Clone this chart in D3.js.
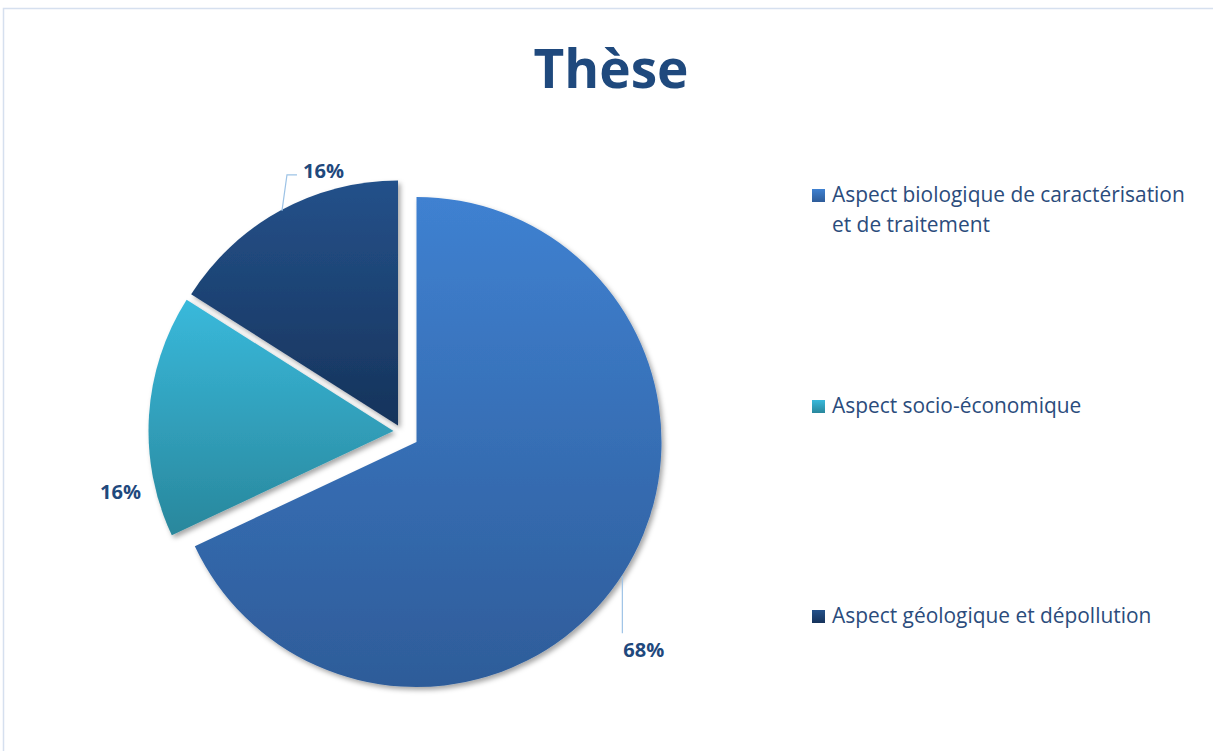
<!DOCTYPE html>
<html><head><meta charset="utf-8">
<script src="https://cdn.jsdelivr.net/npm/d3@7"></script>
<style>body{margin:0;background:#fff}svg{display:block}</style>
</head><body>
<script>
// ---- data ----
const title = "Thèse";
const categories = ["Aspect biologique de caractérisation et de traitement", "Aspect socio-économique", "Aspect géologique et dépollution"];
const legendLines = [["Aspect biologique de caractérisation", "et de traitement"], ["Aspect socio-économique"], ["Aspect géologique et dépollution"]];
const values = [68, 16, 16];
const valueLabels = ["68%", "16%", "16%"];

// ---- layout / style ----
const W = 1213, H = 751;
const cx = 406, cy = 434, R = 245;
const sliceOffsets = [[10.5, 8], [-12.5, -3], [-8, -8.5]];
const gradColors = [["#3f81d1", "#2e5c99"], ["#39b9db", "#29879c"], ["#24518a", "#16335b"]];
const textColor = "#1f497d";
const legendColor = "#2b4c7c";
const font = "'Open Sans', 'Noto Sans', sans-serif";

const svg = d3.select("body").append("svg").attr("width", W).attr("height", H);
const defs = svg.append("defs");
gradColors.forEach((c, i) => {
  const g = defs.append("linearGradient").attr("id", "grad" + i)
    .attr("x1", 0).attr("y1", 0).attr("x2", 0).attr("y2", 1);
  g.append("stop").attr("offset", "0%").attr("stop-color", c[0]);
  g.append("stop").attr("offset", "100%").attr("stop-color", c[1]);
});
const f = defs.append("filter").attr("id", "shadow").attr("x", "-10%").attr("y", "-10%").attr("width", "130%").attr("height", "130%");
f.append("feDropShadow").attr("dx", 2.5).attr("dy", 3).attr("stdDeviation", 2.5)
  .attr("flood-color", "#000").attr("flood-opacity", 0.35);

// border
svg.append("rect").attr("x", 3.5).attr("y", 8.5).attr("width", W).attr("height", H)
  .attr("fill", "none").attr("stroke", "#d6e0ef").attr("stroke-width", 1.5);

function fit(sel, target) {
  const w = sel.node().getComputedTextLength();
  const fs = parseFloat(sel.attr("font-size"));
  sel.attr("font-size", fs * target / w);
}

// title
const t = svg.append("text").attr("x", 611).attr("y", 88).attr("text-anchor", "middle")
  .attr("font-family", font).attr("font-weight", 700).attr("font-size", 54)
  .attr("fill", textColor).text(title);
fit(t, 155);

// pie
const pie = d3.pie().sort(null).value(d => d);
const arcs = pie(values);
const arc = d3.arc().innerRadius(0).outerRadius(R);
const root = svg.append("g").attr("transform", `translate(${cx},${cy})`);

function outerMid(a, i) {
  const m = (a.startAngle + a.endAngle) / 2;
  const o = sliceOffsets[i];
  return [cx + o[0] + R * Math.sin(m), cy + o[1] - R * Math.cos(m)];
}

root.selectAll("path.slice").data(arcs).join("path")
  .attr("class", "slice")
  .attr("transform", (d, i) => `translate(${sliceOffsets[i]})`)
  .attr("d", arc)
  .attr("fill", (d, i) => `url(#grad${i})`)
  .attr("filter", "url(#shadow)");

// data labels
const labelOffsets = [[0, 84], [-49, 83], [23, -33]];
const leaderColor = "#9dc3e6";
arcs.forEach((a, i) => {
  const p = outerMid(a, i);
  if (i === 0) {
    svg.append("line").attr("x1", p[0] - 1).attr("y1", p[1] + 3).attr("x2", p[0] - 1).attr("y2", p[1] + 60)
      .attr("stroke", leaderColor).attr("stroke-width", 1.2);
  } else if (i === 2) {
    svg.append("polyline").attr("points", [[p[0] + 2, p[1]], [p[0] + 7, p[1] - 36], [p[0] + 17, p[1] - 36]].join(" "))
      .attr("fill", "none").attr("stroke", leaderColor).attr("stroke-width", 1.2);
  }
  const lt = svg.append("text").attr("x", p[0] + labelOffsets[i][0]).attr("y", p[1] + labelOffsets[i][1])
    .attr("font-family", font).attr("font-weight", 700).attr("font-size", 19)
    .attr("fill", textColor).text(valueLabels[i]);
  fit(lt, 41);
});

// legend
const legendX = 812, legendTextX = 832;
const legendBaselines = [202, 413, 623];
const lg = svg.append("g");
const probe = lg.append("text").attr("font-family", font).attr("font-size", 20).text(legendLines[0][0]);
fit(probe, 353);
const legendFs = parseFloat(probe.attr("font-size"));
probe.remove();
categories.forEach((c, i) => {
  lg.append("rect").attr("x", legendX).attr("y", legendBaselines[i] - 13)
    .attr("width", 13).attr("height", 13).attr("fill", `url(#grad${i})`);
  const tx = lg.append("text").attr("x", legendTextX).attr("y", legendBaselines[i])
    .attr("font-family", font).attr("font-size", legendFs).attr("fill", legendColor);
  legendLines[i].forEach((line, j) => {
    tx.append("tspan").attr("x", legendTextX).attr("dy", j === 0 ? 0 : 30).text(line);
  });
});
</script>
</body></html>
